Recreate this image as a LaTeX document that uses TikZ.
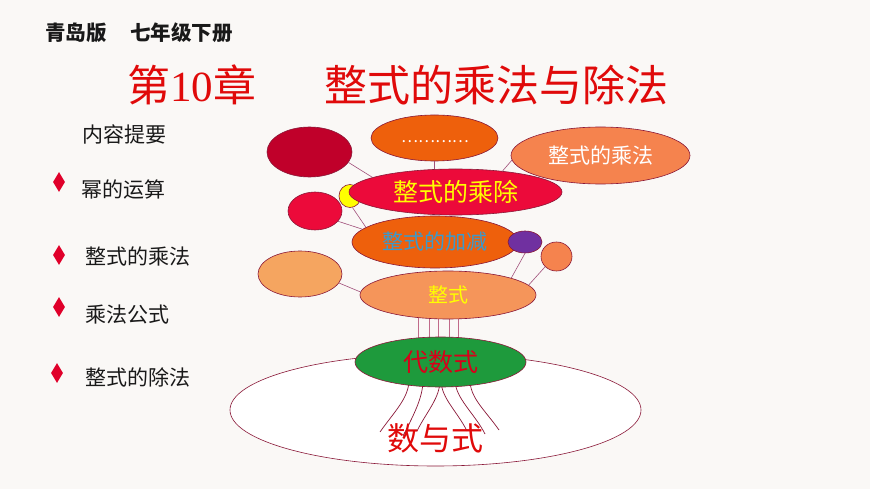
\documentclass[tikz,border=0pt]{standalone}
\usepackage{fontspec}
\setmainfont{Noto Sans CJK SC}
\newfontfamily\serifnum{Liberation Serif}
\usetikzlibrary{shapes.geometric}
\pgfdeclarelayer{bg}
\pgfdeclarelayer{lines}
\pgfsetlayers{bg,lines,main}
\definecolor{bgc}{HTML}{FAF8F6}
\definecolor{edgec}{HTML}{8A1838}
\definecolor{linkc}{HTML}{A0507A}
\definecolor{vlinkc}{HTML}{C06A8A}
\definecolor{titlered}{HTML}{E00A0A}
\definecolor{darkred}{HTML}{C0002A}
\definecolor{vivorange}{HTML}{EE600C}
\definecolor{lightorange}{HTML}{F5834E}
\definecolor{crimson}{HTML}{EC0A3A}
\definecolor{purp}{HTML}{7030A0}
\definecolor{peach}{HTML}{F5A560}
\definecolor{zsorange}{HTML}{F5955A}
\definecolor{greenc}{HTML}{1E9A3C}
\definecolor{tealc}{HTML}{3A9ACC}
\definecolor{yellowc}{HTML}{FFFF00}
\definecolor{textred}{HTML}{D8001A}
\definecolor{diamc}{HTML}{E0002A}
\newcommand\myfs[1]{\fontsize{#1pt}{#1pt}\selectfont}
\tikzset{
  ell/.style={ellipse, draw=edgec, line width=0.6pt, inner sep=0pt},
  link/.style={draw=linkc, line width=0.6pt},
  vlink/.style={draw=vlinkc, line width=0.8pt},
  curvelink/.style={draw=edgec, line width=0.7pt},
  diam/.style={diamond, fill=diamc, inner sep=0pt, minimum width=12pt, minimum height=20pt},
  bullettext/.style={anchor=west, inner sep=0pt, font=\myfs{21}, text=black!90},
  hdrtext/.style={anchor=west, inner sep=0pt, font=\myfs{20.5}\bfseries, text=black!90}
}
\begin{document}
\begin{tikzpicture}[x=1pt,y=-1pt]
\useasboundingbox (0,0) rectangle (870,489);
\begin{pgfonlayer}{bg}
\fill[bgc] (0,0) rectangle (870,489);
\node[ell, fill=white, minimum width=411pt, minimum height=112pt] (big) at (435.5,410) {};
\end{pgfonlayer}

% header and title
\node[hdrtext] (hdr1) at (45,33) {青岛版};
\node[hdrtext] (hdr2) at (130,33) {七年级下册};
\node[anchor=west, inner sep=0pt, font=\myfs{43}, text=titlered] (ch) at (127,85) {第{\serifnum 10}章};
\node[anchor=west, inner sep=0pt, font=\myfs{43}, text=titlered] (ttl) at (324,85) {整式的乘法与除法};

% left list
\node[bullettext] (nr) at (82,134) {内容提要};
\node[diam] (d1) at (59,182) {};
\node[diam] (d2) at (59,255) {};
\node[diam] (d3) at (59,307) {};
\node[diam] (d4) at (57,373) {};
\node[bullettext] (b1) at (81,190) {幂的运算};
\node[bullettext] (b2) at (85,256) {整式的乘法};
\node[bullettext] (b3) at (85,315) {乘法公式};
\node[bullettext] (b4) at (85,377) {整式的除法};

% ellipses
\node[ell, fill=darkred, minimum width=85pt, minimum height=50pt] (dr) at (309.5,152) {};
\node[ell, fill=vivorange, minimum width=127pt, minimum height=46pt] (tp) at (434.5,138) {};
\node[inner sep=0pt, font=\myfs{16}, text=white] (dots) at (435,142) {…………};
\node[ell, fill=lightorange, minimum width=179pt, minimum height=57pt, font=\myfs{21}, text=white] (ml) at (600.5,155.5) {整式的乘法};
\node[ell, fill=yellowc, minimum width=22pt, minimum height=23pt] (yc) at (350,196) {};
\node[ell, fill=crimson, minimum width=213pt, minimum height=46pt, font=\myfs{25}, text=yellowc] (cc) at (455.5,192) {整式的乘除};
\node[ell, fill=crimson, minimum width=54pt, minimum height=38pt] (rc) at (315,211) {};
\node[ell, fill=vivorange, minimum width=166pt, minimum height=52pt, font=\myfs{21}, text=tealc] (jj) at (435,242) {整式的加减};
\node[ell, fill=purp, minimum width=34pt, minimum height=22pt] (pu) at (525,242) {};
\node[ell, fill=lightorange, minimum width=31pt, minimum height=29pt] (so) at (556.5,256.5) {};
\node[ell, fill=peach, minimum width=84pt, minimum height=46pt] (pe) at (300,274) {};
\node[ell, fill=zsorange, minimum width=176pt, minimum height=48pt, font=\myfs{20}, text=yellowc] (zs) at (448,295) {整式};
\node[ell, fill=greenc, minimum width=171pt, minimum height=50pt, font=\myfs{25}, text=textred] (ds) at (440.5,362) {代数式};
\node[inner sep=0pt, font=\myfs{32}, text=titlered] (sys) at (435,438) {数与式};

% connectors between border points
\draw[link] (dr.-15) -- (cc.170);
\draw[link] (tp.south) -- (tp.south |- cc.north);
\draw[link] (ml.183) -- (cc.24);
\draw[link] (yc.-78) -- (jj.168);
\draw[link] (rc.-24) -- (jj.170);
\draw[link] (pu.south) -- (zs.15);
\draw[link] (so.222) -- (zs.7);
\draw[link] (pe.-13) -- (zs.178);

% lines behind the ellipses
\coordinate (c1) at (380,432);
\coordinate (c2) at (403,436);
\coordinate (c3) at (417,431);
\coordinate (c4) at (467,431);
\coordinate (c5) at (485,434);
\coordinate (c6) at (499,430);
\begin{pgfonlayer}{lines}
\draw[vlink] ([xshift=-30pt]zs.center) -- ([xshift=-22.5pt]ds.center);
\draw[vlink] ([xshift=-19pt]zs.center) -- ([xshift=-11.5pt]ds.center);
\draw[vlink] ([xshift=-10pt]zs.center) -- ([xshift=-2.5pt]ds.center);
\draw[vlink] ([xshift=1pt]zs.center) -- ([xshift=8.5pt]ds.center);
\draw[vlink] ([xshift=10pt]zs.center) -- ([xshift=17.5pt]ds.center);
\draw[curvelink] ([xshift=-31.5pt,yshift=-18pt]ds.center) .. controls +(0,18) and +(14,-20) .. (c1);
\draw[curvelink] ([xshift=-17.5pt,yshift=-18pt]ds.center) .. controls +(0,18) and +(10,-20) .. (c2);
\draw[curvelink] ([xshift=-0.5pt,yshift=-18pt]ds.center) .. controls +(0,18) and +(10,-20) .. (c3);
\draw[curvelink] ([xshift=0.5pt,yshift=-18pt]ds.center) .. controls +(0,18) and +(-10,-20) .. (c4);
\draw[curvelink] ([xshift=14.5pt,yshift=-18pt]ds.center) .. controls +(0,18) and +(-10,-20) .. (c5);
\draw[curvelink] ([xshift=29.5pt,yshift=-18pt]ds.center) .. controls +(0,18) and +(-14,-20) .. (c6);
\end{pgfonlayer}
\end{tikzpicture}
\end{document}
